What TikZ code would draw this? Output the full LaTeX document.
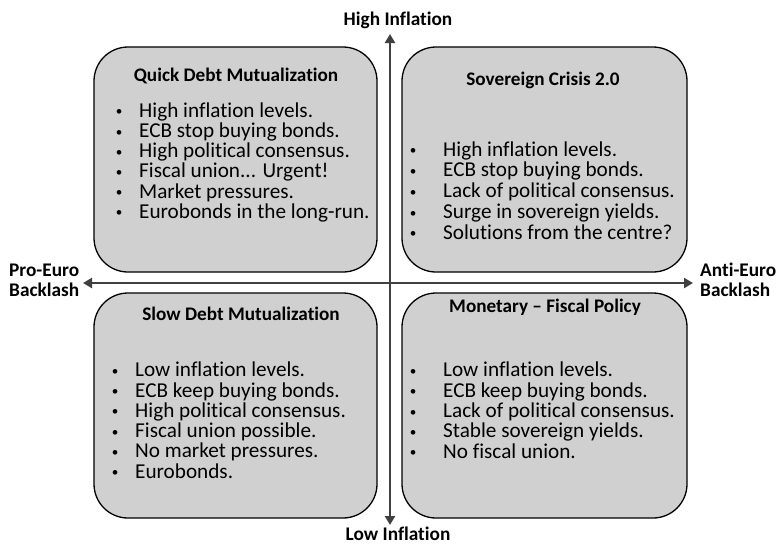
\documentclass[tikz,border=0pt]{standalone}
\usepackage{fontspec}
\setmainfont{Carlito}[Ligatures={TeX,NoCommon}]
\usetikzlibrary{arrows.meta}
\definecolor{boxgray}{RGB}{208,208,208}
\definecolor{axisgray}{RGB}{64,64,64}
\newcommand{\bul}[2]{\llap{\makebox[#1]{\scalebox{0.62}{\raisebox{2.2pt}{\textbullet}}}}#2}
\newcommand{\tdots}{...}

\begin{document}
\begin{tikzpicture}[x=1pt,y=-1pt,
	quad/.style={draw=black, line width=1.3pt, fill=boxgray, rounded corners=34pt, minimum width=283pt, minimum height=225pt, inner sep=0pt},
	head/.style={anchor=base, inner sep=0pt, font=\fontsize{19.2}{20}\selectfont\bfseries},
	item/.style={anchor=base west, inner sep=0pt, font=\fontsize{21.2}{20}\selectfont},
	lab/.style={inner sep=0pt, align=left, font=\fontsize{19.3}{20}\selectfont\bfseries},
	axis/.style={draw=axisgray, line width=2.6pt, {Triangle[length=9pt,width=10pt]}-{Triangle[length=9pt,width=10pt]}}]
	\useasboundingbox (0,0) rectangle (778,550);

	\node[quad] (qdm) at (235.5,159.5) {};
	\node[quad, minimum width=285pt] (sc) at (544.5,159.5) {};
	\node[quad] (sdm) at (235.5,405.5) {};
	\node[quad, minimum width=285pt] (mfp) at (544.5,405.5) {};

	\node[head] (qdm-t) at (236,81) {Quick Debt Mutualization};
	\node[head] (sc-t) at (543,85) {Sovereign Crisis 2.0};
	\node[head] (sdm-t) at (241,320.7) {Slow Debt Mutualization};
	\node[head] (mfp-t) at (545,312.7) {Monetary – Fiscal Policy};

	\foreach \t [count=\i] in {High inflation levels., ECB stop buying bonds., High political consensus., Fiscal union\tdots{} Urgent!, Market pressures., Eurobonds in the long-run.}
		\node[item] (qdm-\i) at ({139},{117.3+20.2*(\i-1)}) {\bul{40pt}{\t}};
	\foreach \t [count=\i] in {High inflation levels., ECB stop buying bonds., Lack of political consensus., Surge in sovereign yields., Solutions from the centre?}
		\node[item] (sc-\i) at ({443},{156+20.8*(\i-1)}) {\bul{60pt}{\t}};
	\foreach \t [count=\i] in {Low inflation levels., ECB keep buying bonds., High political consensus., Fiscal union possible., No market pressures., Eurobonds.}
		\node[item] (sdm-\i) at ({135},{376.7+20.3*(\i-1)}) {\bul{40pt}{\t}};
	\foreach \t [count=\i] in {Low inflation levels., ECB keep buying bonds., Lack of political consensus., Stable sovereign yields., No fiscal union.}
		\node[item] (mfp-\i) at ({443},{376.7+20.4*(\i-1)}) {\bul{60pt}{\t}};

	\node[lab, anchor=base] (hi) at (398,25) {High Inflation};
	\node[lab, anchor=base] (lo) at (398,540.7) {Low Inflation};
	\node[lab, anchor=base west] (pro) at (9,296.7) {Pro-Euro\\Backlash};
	\node[lab, anchor=base west] (anti) at (700,296.7) {Anti-Euro\\Backlash};

	\coordinate (n) at (390,34);
	\coordinate (s) at (390,525);
	\coordinate (w) at (83,283);
	\coordinate (e) at (693,283);
	\draw[axis] (s) -- (n);
	\draw[axis] (w) -- (e);
\end{tikzpicture}
\end{document}
